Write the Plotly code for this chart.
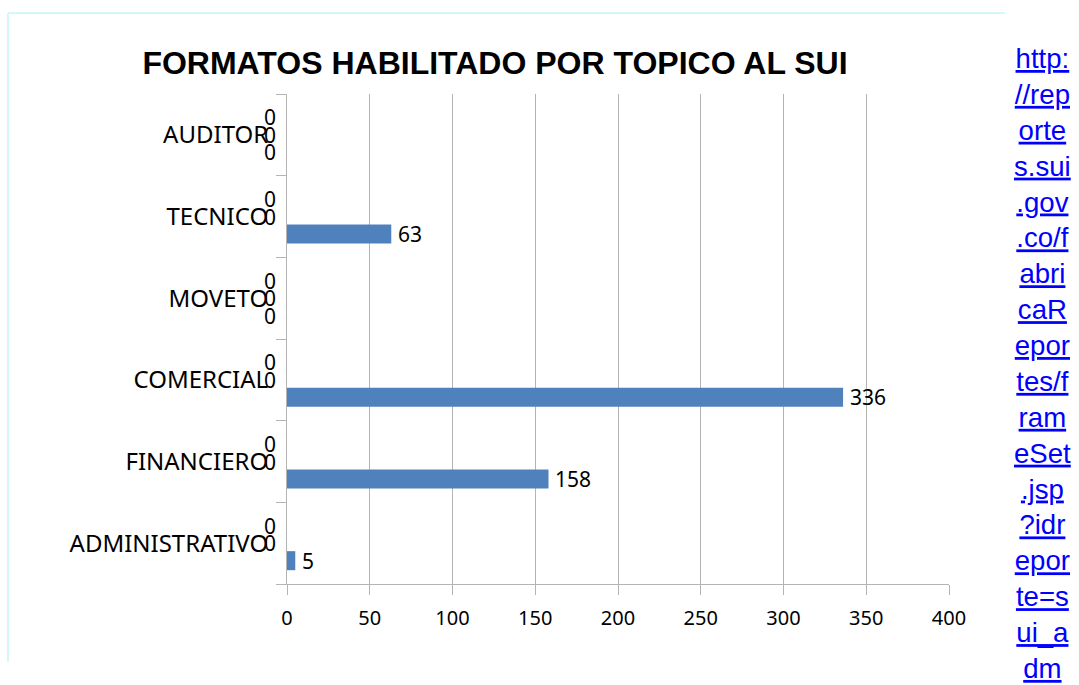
import plotly.graph_objects as go

# ---- data ----
categorias = ["ADMINISTRATIVO", "FINANCIERO", "COMERCIAL", "MOVETO", "TECNICO", "AUDITOR"]
serie1 = [5, 158, 336, 0, 63, 0]
serie2 = [0, 0, 0, 0, 0, 0]
serie3 = [0, 0, 0, 0, 0, 0]
x_ticks = [0, 50, 100, 150, 200, 250, 300, 350, 400]
titulo = "FORMATOS HABILITADO POR TOPICO AL SUI"
enlace_lineas = ["http:", "//rep", "orte", "s.sui", ".gov", ".co/f", "abri", "caR",
                 "epor", "tes/f", "ram", "eSet", ".jsp", "?idr", "epor", "te=s",
                 "ui_a", "dm"]

# ---- style ----
BAR_COLOR = "#4F81BD"
GRID = "#B4B4B4"
LBL_FONT = "Noto Sans"
ML, MR, MT, MB = 287, 130, 94, 101
W, H = 1079, 685
plot_h = H - MT - MB
band_px = plot_h / len(categorias)
slot_px = 17.5
bar_px = 19

series = [serie1, serie2, serie3]

fig = go.Figure()
annotations = []
for i, vals in enumerate(series):
    center = (i - 1) * slot_px / band_px
    w = bar_px / band_px
    fig.add_trace(go.Bar(
        y=categorias, x=vals, orientation="h",
        offset=center - w / 2, width=w,
        marker=dict(color=BAR_COLOR, line=dict(width=0)),
        showlegend=False, hoverinfo="x+y",
    ))
    for cat, v in zip(categorias, vals):
        annotations.append(dict(
            x=v, y=cat, xref="x", yref="y", text=str(v), showarrow=False,
            xanchor="left" if v > 0 else "right",
            xshift=5 if v > 0 else -9,
            yshift=(i - 1) * slot_px,
            font=dict(family=LBL_FONT, size=21, color="black"),
        ))

# link text on the right
annotations.append(dict(
    x=(1042 - ML) / (W - ML - MR), y=(H - MB - 41) / plot_h,
    xref="paper", yref="paper", xanchor="center", yanchor="top",
    text="<br>".join(enlace_lineas), showarrow=False, align="center",
    font=dict(family="Liberation Sans, Arial", size=27.6, color="#0000FF",
              lineposition="under"),
))

pw = W - ML - MR
fig.update_layout(
    width=W, height=H,
    margin=dict(l=ML, r=MR, t=MT, b=MB, pad=0),
    paper_bgcolor="white", plot_bgcolor="white",
    barmode="overlay",
    title=dict(text="<b>" + titulo + "</b>", x=495 / W, xref="container",
               xanchor="center", y=1 - 63 / H, yref="container", yanchor="middle",
               font=dict(family="Liberation Sans, Arial", size=32, color="black")),
    xaxis=dict(range=[0, 400], tickvals=x_ticks, ticktext=[str(t) for t in x_ticks],
               showgrid=True, gridcolor=GRID, gridwidth=1, zeroline=False,
               showline=True, linecolor=GRID, linewidth=1,
               ticks="outside", ticklen=10, tickcolor=GRID, tickwidth=1,
               ticklabelstandoff=6,
               tickfont=dict(family=LBL_FONT, size=20, color="black"), fixedrange=True),
    yaxis=dict(type="category", categoryorder="array", categoryarray=categorias,
               range=[-0.5, len(categorias) - 0.5], tickson="boundaries",
               showgrid=False, zeroline=False, showline=True, linecolor=GRID, linewidth=1,
               ticks="outside", ticklen=10, tickcolor=GRID, tickwidth=1,
               ticklabelstandoff=13,
               tickfont=dict(family=LBL_FONT, size=24, color="black"), fixedrange=True),
    annotations=annotations,
    shapes=[
        dict(type="line", xref="paper", yref="paper",
             x0=(8 - ML) / pw, x1=(1005 - ML) / pw,
             y0=(H - MB - 13) / plot_h, y1=(H - MB - 13) / plot_h,
             line=dict(color="#D4F8F8", width=2)),
        dict(type="line", xref="paper", yref="paper",
             x0=(8 - ML) / pw, x1=(8 - ML) / pw,
             y0=(H - MB - 13) / plot_h, y1=(H - MB - 662) / plot_h,
             line=dict(color="#D4F8F8", width=2)),
    ],
)

fig.write_html("out.html", config={"displayModeBar": False},
               post_script="document.body.style.margin='0';document.body.style.overflow='hidden';")
